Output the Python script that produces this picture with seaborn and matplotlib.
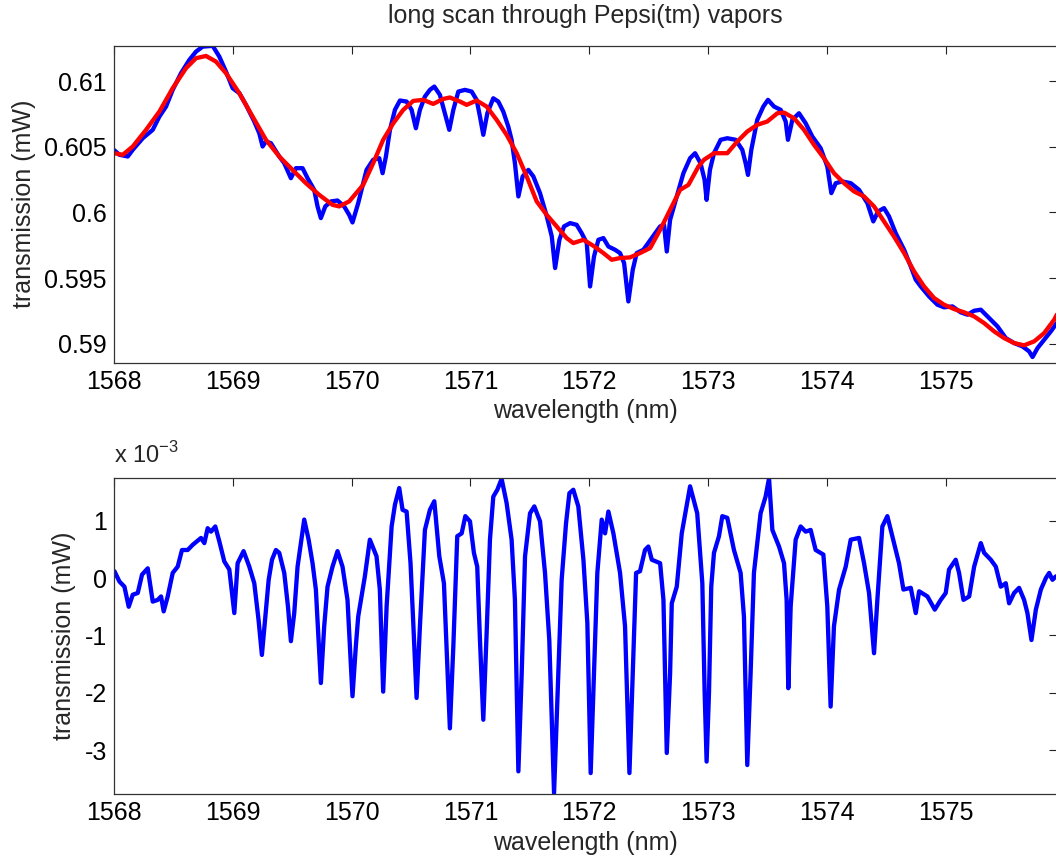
import matplotlib
matplotlib.use("Agg")
import matplotlib.pyplot as plt
import seaborn as sns

# top panel: raw scan (blue) and smoothed baseline (red), mW
scan_wl = [1568.000, 1568.048, 1568.118, 1568.160, 1568.244, 1568.328, 1568.384, 1568.440,
           1568.496, 1568.566, 1568.636, 1568.692, 1568.748, 1568.832, 1568.888, 1568.944,
           1569.000, 1569.056, 1569.112, 1569.182, 1569.224, 1569.252, 1569.280, 1569.322,
           1569.392, 1569.434, 1569.490, 1569.532, 1569.588, 1569.630, 1569.686, 1569.714,
           1569.742, 1569.779, 1569.826, 1569.882, 1569.938, 1569.980, 1570.008, 1570.056,
           1570.126, 1570.182, 1570.233, 1570.261, 1570.289, 1570.323, 1570.365, 1570.407,
           1570.463, 1570.505, 1570.541, 1570.575, 1570.617, 1570.659, 1570.696, 1570.743,
           1570.785, 1570.822, 1570.856, 1570.898, 1570.954, 1571.010, 1571.052, 1571.080,
           1571.108, 1571.142, 1571.192, 1571.234, 1571.276, 1571.318, 1571.346, 1571.374,
           1571.403, 1571.439, 1571.487, 1571.529, 1571.585, 1571.642, 1571.684, 1571.712,
           1571.748, 1571.787, 1571.838, 1571.893, 1571.935, 1571.978, 1572.006, 1572.039,
           1572.076, 1572.118, 1572.160, 1572.216, 1572.258, 1572.292, 1572.328, 1572.365,
           1572.398, 1572.454, 1572.525, 1572.595, 1572.628, 1572.651, 1572.679, 1572.735,
           1572.791, 1572.847, 1572.889, 1572.935, 1572.969, 1572.986, 1573.014, 1573.048,
           1573.104, 1573.160, 1573.230, 1573.286, 1573.314, 1573.334, 1573.362, 1573.412,
           1573.463, 1573.502, 1573.553, 1573.609, 1573.651, 1573.670, 1573.707, 1573.763,
           1573.819, 1573.875, 1573.945, 1574.001, 1574.035, 1574.072, 1574.128, 1574.198,
           1574.268, 1574.338, 1574.388, 1574.428, 1574.478, 1574.520, 1574.576, 1574.647,
           1574.703, 1574.745, 1574.787, 1574.857, 1574.927, 1574.983, 1575.053, 1575.123,
           1575.180, 1575.236, 1575.292, 1575.362, 1575.432, 1575.502, 1575.572, 1575.642,
           1575.698, 1575.727, 1575.769, 1575.825, 1575.881, 1575.931]
scan_mw = [0.60477, 0.60439, 0.60426, 0.60477, 0.60565, 0.60629, 0.60730, 0.60806,
           0.60933, 0.61060, 0.61161, 0.61224, 0.61262, 0.61268, 0.61186, 0.61072,
           0.60946, 0.60908, 0.60819, 0.60692, 0.60603, 0.60502, 0.60540, 0.60527,
           0.60426, 0.60375, 0.60261, 0.60337, 0.60337, 0.60261, 0.60172, 0.60046,
           0.59957, 0.60046, 0.60084, 0.60091, 0.60046, 0.59982, 0.59924, 0.60071,
           0.60324, 0.60401, 0.60413, 0.60299, 0.60426, 0.60629, 0.60781, 0.60852,
           0.60844, 0.60781, 0.60641, 0.60781, 0.60882, 0.60933, 0.60958, 0.60895,
           0.60755, 0.60629, 0.60781, 0.60920, 0.60933, 0.60920, 0.60857, 0.60730,
           0.60591, 0.60755, 0.60869, 0.60844, 0.60768, 0.60654, 0.60553, 0.60375,
           0.60122, 0.60274, 0.60324, 0.60274, 0.60147, 0.59970, 0.59817, 0.59577,
           0.59792, 0.59894, 0.59919, 0.59906, 0.59843, 0.59767, 0.59437, 0.59665,
           0.59792, 0.59805, 0.59741, 0.59716, 0.59691, 0.59615, 0.59323, 0.59564,
           0.59691, 0.59716, 0.59805, 0.59894, 0.59906, 0.59703, 0.59944, 0.60122,
           0.60299, 0.60413, 0.60451, 0.60375, 0.60248, 0.60096, 0.60324, 0.60451,
           0.60553, 0.60565, 0.60553, 0.60477, 0.60375, 0.60286, 0.60477, 0.60705,
           0.60806, 0.60857, 0.60806, 0.60781, 0.60692, 0.60553, 0.60705, 0.60755,
           0.60679, 0.60578, 0.60489, 0.60350, 0.60147, 0.60223, 0.60236, 0.60223,
           0.60172, 0.60071, 0.59932, 0.60008, 0.60033, 0.59970, 0.59843, 0.59716,
           0.59589, 0.59488, 0.59437, 0.59361, 0.59298, 0.59278, 0.59285, 0.59240,
           0.59222, 0.59252, 0.59260, 0.59196, 0.59133, 0.59044, 0.59006, 0.58981,
           0.58943, 0.58900, 0.58968, 0.59032, 0.59095, 0.59158]

smooth_wl = [1568.000, 1568.076, 1568.160, 1568.272, 1568.384, 1568.496, 1568.608, 1568.692,
             1568.776, 1568.860, 1568.944, 1569.056, 1569.168, 1569.280, 1569.392, 1569.504,
             1569.616, 1569.728, 1569.840, 1569.896, 1569.980, 1570.098, 1570.182, 1570.266,
             1570.351, 1570.435, 1570.519, 1570.603, 1570.687, 1570.771, 1570.827, 1570.912,
             1570.968, 1571.052, 1571.136, 1571.220, 1571.304, 1571.389, 1571.473, 1571.557,
             1571.641, 1571.725, 1571.809, 1571.865, 1571.950, 1572.034, 1572.118, 1572.188,
             1572.258, 1572.342, 1572.426, 1572.511, 1572.595, 1572.679, 1572.763, 1572.833,
             1572.917, 1572.964, 1573.048, 1573.160, 1573.244, 1573.328, 1573.412, 1573.496,
             1573.581, 1573.637, 1573.721, 1573.805, 1573.889, 1573.973, 1574.057, 1574.142,
             1574.226, 1574.310, 1574.394, 1574.478, 1574.562, 1574.647, 1574.731, 1574.815,
             1574.899, 1574.983, 1575.067, 1575.152, 1575.236, 1575.320, 1575.404, 1575.488,
             1575.572, 1575.656, 1575.741, 1575.825, 1575.909, 1575.931]
smooth_mw = [0.60451, 0.60439, 0.60502, 0.60629, 0.60768, 0.60946, 0.61098, 0.61174,
             0.61191, 0.61148, 0.61060, 0.60908, 0.60730, 0.60553, 0.60426, 0.60324,
             0.60223, 0.60134, 0.60058, 0.60046, 0.60084, 0.60210, 0.60375, 0.60553,
             0.60679, 0.60781, 0.60849, 0.60857, 0.60826, 0.60864, 0.60875, 0.60844,
             0.60819, 0.60852, 0.60806, 0.60705, 0.60591, 0.60451, 0.60274, 0.60084,
             0.59982, 0.59894, 0.59805, 0.59767, 0.59792, 0.59746, 0.59691, 0.59640,
             0.59653, 0.59658, 0.59691, 0.59729, 0.59868, 0.60020, 0.60172, 0.60210,
             0.60349, 0.60401, 0.60451, 0.60451, 0.60540, 0.60616, 0.60667, 0.60692,
             0.60755, 0.60760, 0.60717, 0.60629, 0.60515, 0.60413, 0.60299, 0.60223,
             0.60160, 0.60122, 0.60046, 0.59932, 0.59817, 0.59691, 0.59551, 0.59437,
             0.59349, 0.59298, 0.59265, 0.59240, 0.59209, 0.59158, 0.59095, 0.59044,
             0.59006, 0.58989, 0.59019, 0.59082, 0.59184, 0.59222]

# bottom panel: scan minus baseline, in units of 1e-3 mW
resid_wl = [1568.006, 1568.048, 1568.090, 1568.126, 1568.160, 1568.202, 1568.238, 1568.286,
            1568.328, 1568.370, 1568.398, 1568.420, 1568.454, 1568.496, 1568.538, 1568.574,
            1568.622, 1568.664, 1568.734, 1568.762, 1568.790, 1568.818, 1568.854, 1568.888,
            1568.930, 1568.972, 1569.014, 1569.042, 1569.092, 1569.140, 1569.182, 1569.218,
            1569.246, 1569.275, 1569.303, 1569.331, 1569.364, 1569.392, 1569.434, 1569.465,
            1569.490, 1569.518, 1569.546, 1569.574, 1569.602, 1569.639, 1569.672, 1569.700,
            1569.723, 1569.742, 1569.770, 1569.798, 1569.840, 1569.882, 1569.924, 1569.966,
            1569.986, 1570.008, 1570.036, 1570.056, 1570.112, 1570.154, 1570.210, 1570.238,
            1570.266, 1570.295, 1570.337, 1570.365, 1570.401, 1570.429, 1570.463, 1570.496,
            1570.519, 1570.547, 1570.575, 1570.617, 1570.659, 1570.696, 1570.738, 1570.777,
            1570.799, 1570.827, 1570.856, 1570.889, 1570.926, 1570.957, 1570.996, 1571.029,
            1571.057, 1571.080, 1571.108, 1571.136, 1571.164, 1571.192, 1571.226, 1571.262,
            1571.304, 1571.346, 1571.374, 1571.403, 1571.431, 1571.459, 1571.501, 1571.537,
            1571.585, 1571.627, 1571.663, 1571.703, 1571.739, 1571.767, 1571.804, 1571.832,
            1571.865, 1571.907, 1571.950, 1571.983, 1572.011, 1572.039, 1572.067, 1572.104,
            1572.132, 1572.160, 1572.202, 1572.258, 1572.300, 1572.337, 1572.365, 1572.393,
            1572.426, 1572.468, 1572.496, 1572.525, 1572.595, 1572.623, 1572.651, 1572.679,
            1572.693, 1572.735, 1572.777, 1572.847, 1572.907, 1572.950, 1572.969, 1572.986,
            1573.006, 1573.025, 1573.048, 1573.090, 1573.118, 1573.160, 1573.216, 1573.272,
            1573.300, 1573.328, 1573.356, 1573.384, 1573.440, 1573.482, 1573.511, 1573.539,
            1573.595, 1573.637, 1573.659, 1573.673, 1573.693, 1573.735, 1573.777, 1573.819,
            1573.861, 1573.903, 1573.968, 1574.001, 1574.029, 1574.057, 1574.100, 1574.156,
            1574.198, 1574.268, 1574.310, 1574.352, 1574.394, 1574.422, 1574.464, 1574.506,
            1574.562, 1574.604, 1574.641, 1574.703, 1574.745, 1574.773, 1574.843, 1574.905,
            1574.955, 1574.997, 1575.025, 1575.081, 1575.109, 1575.146, 1575.194, 1575.236,
            1575.292, 1575.320, 1575.376, 1575.418, 1575.460, 1575.502, 1575.530, 1575.572,
            1575.614, 1575.656, 1575.684, 1575.718, 1575.755, 1575.797, 1575.839, 1575.867,
            1575.895, 1575.923]
resid_e3 = [0.12, -0.06, -0.15, -0.50, -0.29, -0.26, 0.06, 0.17,
            -0.41, -0.38, -0.32, -0.58, -0.32, 0.09, 0.20, 0.49,
            0.49, 0.58, 0.70, 0.61, 0.87, 0.81, 0.90, 0.64,
            0.29, 0.15, -0.61, 0.26, 0.47, 0.20, -0.09, -0.73,
            -1.34, -0.67, -0.03, 0.32, 0.49, 0.44, 0.09, -0.49,
            -1.10, -0.61, 0.20, 0.61, 1.02, 0.67, 0.26, -0.20,
            -1.08, -1.83, -0.84, -0.15, 0.20, 0.47, 0.20, -0.38,
            -1.19, -2.06, -1.19, -0.67, 0.03, 0.67, 0.38, -0.20,
            -1.98, -0.49, 0.90, 1.28, 1.57, 1.19, 1.16, 0.26,
            -0.78, -2.09, -0.84, 0.84, 1.19, 1.34, 0.38, -0.09,
            -1.19, -2.62, -1.19, 0.73, 0.78, 1.08, 0.99, 0.44,
            0.20, -1.08, -2.47, -0.96, 0.67, 1.42, 1.54, 1.73,
            1.31, 0.67, -0.38, -3.37, -1.66, 0.38, 1.13, 1.25,
            0.99, 0.09, -1.08, -3.75, -1.66, -0.03, 0.96, 1.48,
            1.54, 1.25, 0.32, -0.78, -3.40, -1.66, 0.09, 1.02,
            0.78, 1.16, 0.78, 0.09, -0.84, -3.40, -1.66, 0.09,
            0.12, 0.49, 0.55, 0.32, 0.26, -0.38, -3.05, -1.66,
            -0.44, -0.15, 0.78, 1.60, 1.13, -0.09, -1.95, -3.20,
            -2.00, -0.15, 0.44, 0.73, 1.08, 1.05, 0.49, 0.09,
            -0.67, -3.26, -1.66, 0.09, 1.13, 1.42, 1.74, 0.84,
            0.55, 0.26, -0.38, -1.92, -0.49, 0.67, 0.90, 0.81,
            0.84, 0.49, 0.41, -0.49, -2.24, -0.84, -0.20, 0.20,
            0.67, 0.70, 0.26, -0.26, -1.31, -0.38, 0.90, 1.08,
            0.61, 0.26, -0.20, -0.17, -0.61, -0.23, -0.32, -0.55,
            -0.38, -0.26, 0.15, 0.32, 0.09, -0.38, -0.32, 0.20,
            0.61, 0.44, 0.32, 0.20, -0.15, -0.09, -0.44, -0.26,
            -0.17, -0.38, -0.61, -1.08, -0.55, -0.20, 0.00, 0.09,
            -0.03, 0.03]

top_yticks = [0.59, 0.595, 0.6, 0.605, 0.61]
top_yticklabels = ["0.59", "0.595", "0.6", "0.605", "0.61"]
bottom_yticks = [-3, -2, -1, 0, 1]
x_ticks = [1568, 1569, 1570, 1571, 1572, 1573, 1574, 1575]

sns.set_style("white")
plt.rcParams['font.family'] = ['Liberation Sans', 'DejaVu Sans']
plt.rcParams['font.size'] = 18

fig = plt.figure(figsize=(10.56, 8.6), dpi=100)
ax1 = fig.add_axes([0.1077, 0.578, 0.8935, 0.369])
ax2 = fig.add_axes([0.1077, 0.0764, 0.8935, 0.3681])

sns.lineplot(x=scan_wl, y=scan_mw, ax=ax1, color='#0000ff', linewidth=3.1,
             estimator=None, sort=False)
sns.lineplot(x=smooth_wl, y=smooth_mw, ax=ax1, color='#ff0000', linewidth=3.1,
             estimator=None, sort=False)
sns.lineplot(x=resid_wl, y=resid_e3, ax=ax2, color='#0000ff', linewidth=3.1,
             estimator=None, sort=False)

for ax in (ax1, ax2):
    ax.set_xlim(1568, 1575.935)
    ax.set_xticks(x_ticks)
    ax.set_xticklabels([str(t) for t in x_ticks])
    ax.tick_params(direction='in', top=True, right=True, length=6, width=0.8,
                   labelsize=18, pad=5, colors='#222222', labelcolor='black')
    for s in ax.spines.values():
        s.set_color('#333333')
        s.set_linewidth(0.9)
    ax.set_xlabel('wavelength (nm)', fontsize=18, labelpad=4)
    ax.set_ylabel('transmission (mW)', fontsize=18, labelpad=6)

ax1.set_ylim(0.58855, 0.6127)
ax1.set_yticks(top_yticks)
ax1.set_yticklabels(top_yticklabels)
ax1.set_title('long scan through Pepsi(tm) vapors', fontsize=18, pad=16)

ax2.set_ylim(-3.77, 1.75)
ax2.set_yticks(bottom_yticks)
ax2.set_yticklabels([str(t) for t in bottom_yticks])
ax2.text(0.0, 1.03, r'x 10$^{\mathregular{-3}}$', transform=ax2.transAxes,
         fontsize=17, ha='left', va='bottom')

fig.savefig('out.png', dpi=100, facecolor='white')
